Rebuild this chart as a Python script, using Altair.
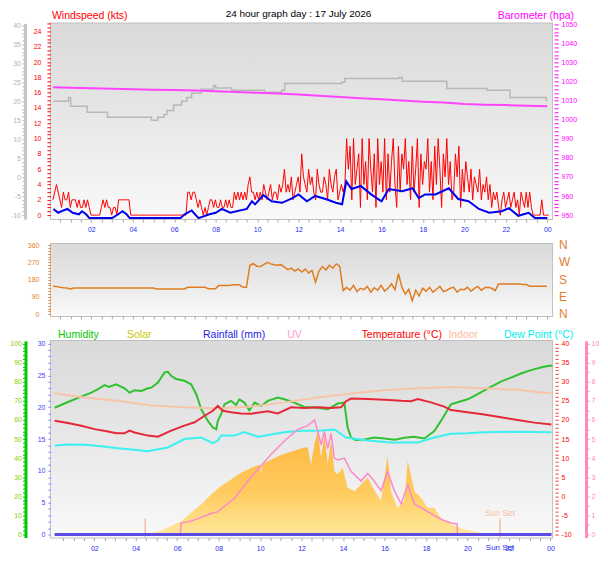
import altair as alt
import pandas as pd

FONT = "Liberation Sans"
W = 502
H_TOP, H_MID, H_BOT = 196, 72, 197

# ---------------- data ----------------
# wind gust, kts, every 5 minutes from 00:09
gust_kts = [
    2, 3, 4, 3, 2, 1, 3, 2, 2, 3, 1, 2,
    2, 2, 1, 2, 1, 1, 2, 1, 2, 1, 0, 0,
    0, 0, 0, 0, 1, 2, 1, 2, 1, 1, 0, 1,
    1, 0, 2, 2, 2, 2, 2, 2, 2, 0, 0, 0,
    0, 0, 0, 0, 0, 0, 0, 0, 0, 0, 0, 0,
    0, 0, 0, 0, 0, 0, 0, 0, 0, 0, 0, 0,
    0, 0, 0, 0, 0, 0, 3, 3, 2, 3, 3, 2,
    1, 2, 1, 0, 1, 0, 1, 2, 2, 1, 2, 1,
    1, 2, 1, 1, 2, 1, 2, 1, 1, 3, 2, 3,
    2, 3, 2, 3, 2, 4, 5, 3, 3, 2, 3, 2,
    3, 2, 4, 3, 2, 3, 4, 2, 3, 3, 2, 4,
    3, 4, 6, 3, 4, 3, 5, 2, 3, 4, 5, 3,
    8, 5, 4, 3, 6, 4, 5, 3, 2, 6, 4, 3,
    3, 5, 4, 2, 6, 4, 3, 5, 6, 2, 3, 4,
    3, 4, 10, 6, 9, 2, 10, 4, 6, 8, 1, 10,
    4, 7, 2, 10, 6, 3, 8, 1, 10, 4, 7, 3,
    10, 2, 8, 3, 7, 10, 4, 1, 9, 3, 8, 6,
    10, 4, 7, 2, 9, 3, 6, 10, 1, 8, 4, 7,
    6, 10, 3, 7, 2, 9, 4, 10, 6, 1, 8, 5,
    10, 4, 7, 2, 3, 8, 5, 9, 1, 6, 3, 7,
    5, 3, 6, 2, 5, 4, 3, 6, 2, 4, 3, 5,
    2, 4, 1, 3, 2, 3, 1, 0, 2, 3, 1, 2,
    3, 1, 2, 3, 1, 2, 0, 3, 2, 1, 3, 1,
    3, 1, 0, 0, 0, 0, 0, 2, 0, 0, 0, 0,
]

# wind average, kts
avg_hours = [0.17, 0.4, 0.65, 0.85, 1.1, 1.4, 1.55, 1.75, 1.9, 3.0, 3.3, 3.5, 3.7, 3.85,
             6.3, 6.5, 6.84, 7.17, 7.7, 8.0, 8.3, 8.7, 9.5, 9.75, 9.9, 10.3, 10.7, 11.2,
             11.7, 12.0, 12.4, 12.8, 13.3, 13.8, 14.1, 14.3, 14.55, 15.0, 15.5, 16.0,
             16.35, 17.0, 17.5, 17.8, 18.1, 18.6, 19.25, 19.7, 20.2, 20.7, 21.2, 21.8,
             22.15, 22.6, 23.1, 23.4, 24.0]
avg_kts = [1.2, 0.7, 1.0, 1.2, 0.7, 0.5, 0.9, 0.5, 0, 0, 0.5, 0.9, 0.5, 0,
           0, 0.5, 1.0, 0, 0.5, 0.7, 1.2, 0.7, 1.2, 2.2, 1.8, 3.0, 2.2, 2.0,
           2.6, 3.1, 2.2, 2.9, 2.5, 2.0, 1.8, 4.8, 3.8, 4.2, 3.1, 2.2,
           3.8, 3.5, 3.9, 2.6, 3.1, 3.1, 3.9, 2.5, 2.2, 1.2, 0.7, 0.9,
           1.3, 0.3, 0.7, 0, 0]

# barometer, hPa
baro_hours = [0.15, 1, 2, 3, 4, 5, 6, 7, 8, 9, 10, 11, 12, 13, 14, 15, 16, 17, 18, 19,
              20, 21, 22, 23, 24.0]
baro_hpa = [1017.0, 1016.8, 1016.5, 1016.3, 1016.0, 1015.8, 1015.6, 1015.3, 1015.0,
            1014.6, 1014.2, 1013.8, 1013.3, 1012.6, 1011.9, 1011.3, 1010.7, 1010.1,
            1009.5, 1009.0, 1008.3, 1007.9, 1007.7, 1007.4, 1007.1]

# grey trace on the left grey scale (temperature)
grey_hours = [0.17, 0.9, 1.0, 1.8, 2.78, 4.9, 5.2, 5.5, 5.65, 5.97, 6.35, 6.6, 6.84, 7.3,
              7.9, 8.0, 8.77, 10.36, 11.18, 11.33, 14.08, 14.23, 16.83, 17.0, 19.15,
              21.1, 22.2, 23.95, 24.0]
grey_vals = [20.0, 21.0, 18.7, 17.1, 15.8, 15.0, 15.8, 16.5, 17.6, 19.0, 20.0, 21.0, 22.1,
             23.2, 24.2, 23.5, 22.9, 22.4, 22.9, 24.7, 25.0, 26.0, 26.3, 25.3, 23.4,
             22.9, 21.0, 20.2, 20.2]

# wind direction, degrees, every 10 minutes from 00:09
wind_dir = [
    146, 145, 140, 138, 137, 132,
    137, 137, 137, 137, 137, 137,
    137, 137, 137, 137, 137, 137,
    137, 137, 137, 137, 137, 137,
    137, 137, 137, 137, 137, 137,
    132, 132, 132, 132, 132, 132,
    132, 132, 132, 140, 140, 140,
    140, 140, 140, 133, 133, 133,
    149, 149, 149, 149, 153, 153,
    153, 140, 140, 255, 263, 250,
    248, 258, 270, 262, 258, 255,
    258, 245, 232, 240, 225, 236,
    220, 235, 215, 228, 167, 225,
    248, 230, 255, 240, 262, 250,
    123, 140, 125, 150, 118, 135,
    128, 145, 115, 138, 125, 150,
    120, 135, 158, 128, 211, 140,
    105, 130, 70, 125, 95, 135,
    120, 140, 115, 130, 145, 118,
    125, 135, 140, 115, 130, 128,
    140, 120, 135, 145, 125, 138,
    140, 135, 123, 158, 158, 158,
    158, 158, 158, 158, 155, 155,
    146, 146, 146, 146, 146, 146,
]
compass_deg = [0, 90, 180, 270, 360]
compass_lab = ["N", "E", "S", "W", "N"]

# humidity %
hum_hours = [0.09, 0.73, 1.37, 1.86, 2.18, 2.5, 2.7, 3.06, 3.46, 3.7, 3.94, 4.27, 4.59, 4.75,
             5.07, 5.39, 5.55, 5.71, 5.95, 6.35, 6.67, 6.92, 7.16, 7.48, 7.72, 7.88, 7.96,
             8.12, 8.28, 8.6, 8.84, 9.0, 9.24, 9.48, 9.73, 10.05, 10.37, 10.85, 11.17,
             11.65, 12.13, 12.78, 13.26, 13.74, 14.06, 14.22, 14.39, 14.6, 15.03, 15.5,
             16.0, 16.5, 16.95, 17.4, 17.92, 18.4, 18.72, 19.2, 20.0, 20.17, 20.49, 20.97,
             21.61, 22.1, 22.58, 23.06, 23.54, 23.86, 24.1]
hum_pct = [66.4, 69.4, 72.2, 74.3, 76.1, 78.2, 77.3, 78.7, 76.6, 74.3, 75.5, 75.2, 76.6, 76.9,
           79.6, 84.9, 85.2, 83.1, 81.4, 80.5, 78.7, 73.5, 65.6, 59.5, 56.0, 55.1, 59.5,
           63.0, 68.2, 70.0, 67.8, 70.8, 69.1, 65.0, 69.1, 67.3, 70.0, 71.7, 70.8,
           69.1, 66.8, 66.4, 65.6, 68.6, 69.1, 56.0, 50.7, 49.5, 49.8, 50.8,
           50.3, 49.6, 50.7, 51.2, 50.3, 54.2, 59.5, 68.2, 70.8, 71.7, 73.5, 76.4,
           80.1, 82.2, 84.3, 86.1, 87.5, 88.2, 88.5]

# outdoor temperature °C
temp_hours = [0.09, 0.73, 1.37, 2.02, 2.66, 3.06, 3.46, 3.7, 3.94, 4.59, 5.07, 5.71, 6.35,
              6.84, 7.32, 7.72, 7.96, 8.2, 8.6, 9.08, 9.56, 10.37, 10.85, 11.49, 12.13,
              12.78, 13.42, 13.9, 14.14, 14.39, 15.19, 16.0, 16.8, 17.28, 17.6, 18.24,
              18.88, 19.2, 20.0, 20.81, 21.61, 22.42, 23.22, 24.05]
temp_c = [19.8, 19.2, 18.5, 17.6, 17.0, 16.5, 16.5, 17.2, 16.7, 15.9, 15.6, 17.2, 18.5,
          19.4, 21.1, 22.4, 23.7, 22.4, 22.0, 21.7, 21.6, 22.3, 21.7, 23.3, 23.1,
          23.3, 23.1, 23.3, 24.9, 25.6, 25.5, 25.3, 25.0, 24.9, 25.5, 24.6,
          23.5, 22.6, 22.0, 21.4, 20.7, 20.0, 19.3, 18.8]

# indoor temperature °C
indoor_hours = [0.09, 1.52, 3.14, 4.75, 6.35, 7.96, 9.56, 11.17, 12.78, 14.39, 16.0, 17.6,
                19.2, 20.81, 22.42, 23.22, 24.05]
indoor_c = [27.0, 25.9, 25.0, 23.8, 23.3, 23.0, 23.5, 24.6, 25.9, 26.9, 27.8, 28.3,
            28.6, 28.3, 27.9, 27.4, 26.9]

# dew point °C
dew_hours = [0.09, 0.73, 1.52, 2.34, 3.14, 3.94, 4.59, 4.75, 5.55, 6.35, 7.16, 7.72, 7.96,
             8.12, 8.76, 9.24, 9.89, 11.17, 11.97, 12.78, 13.58, 14.14, 15.19, 16.32, 17.6,
             18.4, 19.2, 20.0, 20.81, 22.42, 24.05]
dew_c = [13.3, 13.6, 13.5, 13.1, 12.6, 12.2, 11.8, 12.0, 12.8, 15.0, 15.4, 13.9, 14.6,
         15.9, 15.9, 16.8, 15.6, 16.8, 17.2, 17.2, 17.5, 15.4, 14.6, 14.1, 14.1,
         15.4, 16.4, 16.5, 16.8, 16.9, 16.8]

# UV index
uv_hours = [0.09, 6.15, 6.19, 6.67, 7.64, 7.96, 8.76, 9.56, 10.05, 10.53, 11.17, 11.81,
            12.29, 12.62, 12.78, 12.94, 13.1, 13.26, 13.42, 13.58, 13.74, 14.06, 14.39,
            14.87, 15.19, 15.43, 15.83, 16.15, 16.47, 16.8, 17.12, 17.44, 18.08, 18.72,
            19.2, 19.5, 19.52, 24.05]
uv_idx = [0, 0, 0.6, 0.7, 1.1, 1.2, 1.9, 3.0, 3.6, 4.2, 4.9, 5.5,
          5.7, 6.0, 5.4, 4.7, 5.4, 4.5, 5.3, 4.0, 3.9, 4.0, 3.3,
          2.8, 3.2, 2.9, 2.3, 3.3, 2.3, 1.6, 2.6, 1.6, 1.2, 0.8,
          0.6, 0.55, 0, 0]

# solar radiation W/m²
solar_hours = [4.4, 4.75, 5.23, 5.71, 6.19, 6.67, 7.16, 7.64, 8.12, 8.6, 9.08, 9.56, 10.0,
               10.05, 10.1, 10.53, 11.01, 11.49, 11.97, 12.29, 12.45, 12.62, 12.78, 12.94,
               13.1, 13.26, 13.42, 13.58, 13.74, 13.98, 14.22, 14.55, 14.87, 15.19, 15.43,
               15.83, 16.15, 16.31, 16.63, 16.95, 17.12, 17.44, 17.76, 18.08, 18.4, 18.72,
               19.2, 19.5, 19.7, 20.3, 20.8, 21.1]
solar_wm2 = [0, 8, 21, 44, 70, 114, 158, 210, 254, 288, 323, 350, 367,
             310, 367, 393, 416, 433, 451, 458, 367, 472, 542, 402,
             524, 367, 489, 332, 315, 350, 245, 227, 262, 297, 245,
             175, 411, 227, 140, 175, 385, 227, 192, 140, 140, 87,
             52, 45, 31, 17, 7, 0]

# rainfall mm
rain_hours = [0.09, 24.05]
rain_mm = [0, 0]

sunrise_h = 4.46
sunset_h = 21.57

# tick values
hour_ticks = [h / 2 for h in range(1, 49)]
grey_ticks = list(range(-10, 41))
kts_ticks = [k / 2 for k in range(0, 51)]
hpa_ticks = list(range(950, 1051, 2))
deg_ticks = list(range(0, 361, 15))
hum_ticks = list(range(0, 101, 2))
rain_ticks = list(range(0, 31))
temp_ticks = list(range(-10, 41))
uv_ticks = [u / 2 for u in range(0, 21)]

# ---------------- frames ----------------
df_gust = pd.DataFrame({"t": [0.15 + i / 12 for i in range(len(gust_kts))], "v": gust_kts})
df_avg = pd.DataFrame({"t": avg_hours, "v": avg_kts})
df_baro = pd.DataFrame({"t": baro_hours, "v": baro_hpa})
df_grey = pd.DataFrame({"t": grey_hours, "v": grey_vals})
df_dir = pd.DataFrame({"t": [0.15 + i / 6 for i in range(len(wind_dir))], "d": wind_dir})
df_comp = pd.DataFrame({"d": compass_deg, "lab": compass_lab})
df_hum = pd.DataFrame({"t": hum_hours, "v": hum_pct})
df_temps = pd.concat([
    pd.DataFrame({"t": indoor_hours, "v": indoor_c, "s": "Indoor"}),
    pd.DataFrame({"t": dew_hours, "v": dew_c, "s": "Dew Point"}),
    pd.DataFrame({"t": temp_hours, "v": temp_c, "s": "Temperature"}),
])
df_uv = pd.DataFrame({"t": uv_hours, "v": uv_idx})
df_sol = pd.DataFrame({"t": solar_hours, "v": solar_wm2})
df_rain = pd.DataFrame({"t": rain_hours, "v": rain_mm})
df_sun = pd.DataFrame({"t": [sunrise_h, sunset_h]})
df_sunset = pd.DataFrame({"t": [sunset_h]})
one = pd.DataFrame({"a": [0]})

# ---------------- helpers ----------------
GRID = "#c6c6c6"


def yax(orient, offset, values, show, color, tick_color=None, tick=3, pad=2,
        domain=None, grid=None):
    kw = dict(orient=orient, offset=offset, values=values,
              labelExpr=f"({show}) ? '' + datum.value : ''",
              labelColor=color, tickColor=tick_color or color, tickSize=tick,
              labelPadding=pad, labelFontSize=7, labelFont=FONT, title=None,
              labelOverlap=False, labelBound=False, labelFlush=False)
    if domain:
        kw.update(domain=True, domainColor=domain, domainWidth=3)
    else:
        kw.update(domain=False)
    if grid:
        kw.update(grid=True, gridColor=GRID, gridDash=[1, 2],
                  gridOpacity={"condition": {"test": grid, "value": 1}, "value": 0})
    else:
        kw.update(grid=False)
    return alt.Axis(**kw)


XLAB = ("(datum.value % 2 == 0 && datum.value > 0) ? "
        "(((datum.value % 24) < 10 ? '0' : '') + (datum.value % 24)) : ''")


def xax(labels=True, pad=3):
    kw = dict(values=hour_ticks, labels=labels, labelColor="#2a2aee", labelFontSize=7,
              labelFont=FONT, tickColor="#a8a8a8", tickSize=3, labelPadding=pad,
              domain=False, title=None, grid=True, gridColor=GRID, gridDash=[1, 2],
              gridOpacity={"condition": {"test": "datum.value % 2 == 0", "value": 1},
                           "value": 0},
              labelOverlap=False, labelFlush=False, labelBound=False)
    if labels:
        kw["labelExpr"] = XLAB
    return alt.Axis(**kw)


def background(h):
    grad = alt.LinearGradient(
        gradient="linear", x1=0, x2=0, y1=0, y2=1,
        stops=[alt.GradientStop(color="#dadada", offset=0),
               alt.GradientStop(color="#e6e6e6", offset=0.45),
               alt.GradientStop(color="#f9f9f9", offset=1)])
    return alt.Chart(one).mark_rect(color=grad).encode(
        x=alt.value(0), x2=alt.value(W), y=alt.value(0), y2=alt.value(h))


def label(text, x, y, color, size=10.5, align="center", baseline="alphabetic"):
    return alt.Chart(one).mark_text(text=text, color=color, fontSize=size, font=FONT,
                                    align=align, baseline=baseline).encode(
        x=alt.value(x), y=alt.value(y))


def lin(dom):
    return alt.Scale(domain=dom, nice=False, zero=False)


# ---------------- top panel ----------------
X_top = alt.X("t:Q", scale=lin([0.05, 24.23]), axis=xax(pad=3))
KTS = [-0.52, 25.04]

grey_line = alt.Chart(df_grey).mark_line(interpolate="step-after", color="#b8b8b8",
                                         strokeWidth=1.5).encode(
    x=X_top,
    y=alt.Y("v:Q", scale=lin([-11.05, 40.53]),
            axis=yax("left", 26, grey_ticks, "datum.value % 5 == 0", "#b4b4b4",
                     tick=3, pad=1.5, domain="#c4c4c4")))
baro_line = alt.Chart(df_baro).mark_line(color="#ff44ff", strokeWidth=2).encode(
    x=X_top,
    y=alt.Y("v:Q", scale=lin([947.9, 1050.52]),
            axis=yax("right", 2, hpa_ticks, "datum.value % 10 == 0", "#ff00ff",
                     tick=4, pad=3)))
gust_line = alt.Chart(df_gust).mark_line(color="#ff0000", strokeWidth=1).encode(
    x=X_top,
    y=alt.Y("v:Q", scale=lin(KTS),
            axis=yax("left", 0, kts_ticks, "datum.value % 2 == 0 && datum.value <= 24",
                     "#ff0000", tick=4, pad=6,
                     grid="datum.value % 2 == 0 && datum.value > 0")))
avg_line = alt.Chart(df_avg).mark_line(color="#0000ee", strokeWidth=2, yOffset=3).encode(
    x=X_top, y=alt.Y("v:Q", scale=lin(KTS), axis=None))

top = alt.layer(
    background(H_TOP), grey_line, baro_line, gust_line, avg_line,
    label("24 hour graph day : 17 July 2026", 248, -6, "#000000", size=10),
    label("Windspeed (kts)", 1, -4, "#ff0000", align="left"),
    label("Barometer (hpa)", 524, -4, "#ff00ff", align="right"),
).resolve_scale(y="independent").properties(width=W, height=H_TOP)

# ---------------- middle panel ----------------
X_mid = alt.X("t:Q", scale=lin([0.05, 24.23]), axis=xax(labels=False))
Y_dir = alt.Y("d:Q", scale=lin([-8.8, 365.2]),
              axis=yax("left", 0, deg_ticks, "datum.value % 90 == 0", "#e08030",
                       tick=3, pad=9,
                       grid="datum.value % 90 == 0 && datum.value > 0 && datum.value < 360"))
dir_line = alt.Chart(df_dir).mark_line(color="#e07c20", strokeWidth=1.5).encode(
    x=X_mid, y=Y_dir)
compass = alt.Chart(df_comp).mark_text(align="left", baseline="middle", fontSize=12,
                                       font=FONT, color="#e08030").encode(
    x=alt.value(W + 7), y=Y_dir, text="lab:N")
mid = alt.layer(background(H_MID), dir_line, compass).properties(width=W, height=H_MID)

# ---------------- bottom panel ----------------
X_bot = alt.X("t:Q", scale=lin([-0.09, 24.08]), axis=xax(pad=4))
solar_grad = alt.LinearGradient(
    gradient="linear", x1=0, x2=0, y1=0, y2=1,
    stops=[alt.GradientStop(color="#ffb43c", offset=0),
           alt.GradientStop(color="#ffcc60", offset=0.6),
           alt.GradientStop(color="#ffe89a", offset=1)])
solar_area = alt.Chart(df_sol).mark_area(color=solar_grad).encode(
    x=X_bot, y=alt.Y("v:Q", scale=lin([-16, 1014]), axis=None))
sun_rules = alt.Chart(df_sun).mark_rule(color="#f6bca0", strokeWidth=1.5).encode(
    x=X_bot, y=alt.value(178), y2=alt.value(H_BOT))
sunset_txt = alt.Chart(df_sunset).mark_text(text="Sun Set", color="#f8c0a4", fontSize=8.5,
                                            font=FONT, baseline="middle").encode(
    x=X_bot, y=alt.value(172))
sunset_axis_txt = alt.Chart(df_sunset).mark_text(text="Sun Set", color="#2a2aee",
                                                 fontSize=8, font=FONT,
                                                 baseline="top").encode(
    x=X_bot, y=alt.value(H_BOT + 6))
rain_line = alt.Chart(df_rain).mark_line(color="#5a4ae6", strokeWidth=3).encode(
    x=X_bot,
    y=alt.Y("v:Q", scale=lin([-0.47, 30.42]),
            axis=yax("left", 0, rain_ticks, "datum.value % 5 == 0", "#3c3cff",
                     tick_color="#8080ff", tick=3, pad=3)))
hum_line = alt.Chart(df_hum).mark_line(color="#30c030", strokeWidth=2).encode(
    x=X_bot,
    y=alt.Y("v:Q", scale=lin([-1.6, 101.4]),
            axis=yax("left", 25.5, hum_ticks, "datum.value % 10 == 0", "#8ccc00",
                     tick_color="#00c000", tick=3, pad=1, domain="#00c800")))
temp_lines = alt.Chart(df_temps).mark_line(strokeWidth=2).encode(
    x=X_bot,
    y=alt.Y("v:Q", scale=lin([-10.8, 40.7]),
            axis=yax("right", 3, temp_ticks, "datum.value % 5 == 0", "#ff0000",
                     tick_color="#ff3030", tick=3, pad=3,
                     grid="datum.value % 5 == 0 && datum.value > -10 && datum.value < 40")),
    color=alt.Color("s:N", legend=None,
                    scale=alt.Scale(domain=["Indoor", "Dew Point", "Temperature"],
                                    range=["#f8c4a8", "#3cf0f0", "#e42838"])))
uv_line = alt.Chart(df_uv).mark_line(color="#ff88c8", strokeWidth=1.5).encode(
    x=X_bot,
    y=alt.Y("v:Q", scale=lin([-0.16, 10.14]),
            axis=yax("right", 34, uv_ticks, "datum.value % 1 == 0", "#ff88c0",
                     tick=3, pad=2, domain="#ff88c0")))

legend_items = [("Humidity", 27.5, "#00c800"), ("Solar", 88.5, "#c8c800"),
                ("Rainfall (mm)", 183.5, "#1e1ee6"), ("UV", 244, "#ff9cd0"),
                ("Temperature (°C)", 351.5, "#ff0000"), ("Indoor", 413, "#ffb898"),
                ("Dew Point (°C)", 488.5, "#00f0f0")]
legend_layers = [label(txt, x, -3, col) for txt, x, col in legend_items]

bot = alt.layer(
    background(H_BOT), solar_area, sun_rules, sunset_txt, sunset_axis_txt,
    hum_line, temp_lines, uv_line, rain_line, *legend_layers,
).resolve_scale(y="independent", color="independent").properties(width=W, height=H_BOT)

chart = alt.vconcat(top, mid, bot, spacing=25, bounds="flush").properties(
    padding=0, background="white"
).configure_view(stroke="#c0c0c0", strokeWidth=2).configure_text(font=FONT)

chart.save("out.html", embed_options={"renderer": "svg", "actions": False})
